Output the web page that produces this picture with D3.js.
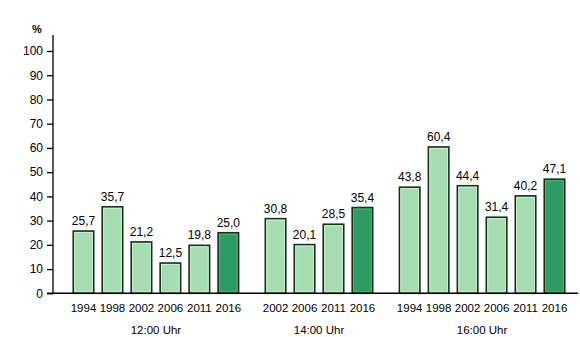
<!DOCTYPE html>
<html><head><meta charset="utf-8">
<script src="https://cdn.jsdelivr.net/npm/d3@7"></script>
<style>html,body{margin:0;padding:0;background:#fff;}svg{display:block;font-family:"Liberation Sans",Arial,sans-serif;}</style>
</head><body>
<script>
const groups = ["12:00 Uhr", "14:00 Uhr", "16:00 Uhr"];
const years12 = ["1994", "1998", "2002", "2006", "2011", "2016"];
const values12 = [25.7, 35.7, 21.2, 12.5, 19.8, 25.0];
const years14 = ["2002", "2006", "2011", "2016"];
const values14 = [30.8, 20.1, 28.5, 35.4];
const years16 = ["1994", "1998", "2002", "2006", "2011", "2016"];
const values16 = [43.8, 60.4, 44.4, 31.4, 40.2, 47.1];
const yTicks = [0, 10, 20, 30, 40, 50, 60, 70, 80, 90, 100];

const W = 580, H = 337;
const svg = d3.select("body").append("svg").attr("width", W).attr("height", H);

const groupYears = [years12, years14, years16];
const groupValues = [values12, values14, values16];
const gapSlots = 1.63;
const bars = [];
const groupCenters = [];
let idx = 0;
groupYears.forEach((ys, gi) => {
  const start = idx;
  ys.forEach((yr, i) => {
    bars.push({group: gi, year: yr, value: groupValues[gi][i], pos: idx, last: i === ys.length - 1});
    idx += 1;
  });
  groupCenters.push({name: groups[gi], pos: (start + idx - 1) / 2});
  idx += gapSlots - 1;
});
const maxPos = bars[bars.length - 1].pos;

const x = d3.scaleLinear().domain([0, maxPos]).range([83.5, 554.5]);
const y = d3.scaleLinear().domain([0, 100]).range([293.3, 51]);
const barW = 20.5;

// y axis
const axisX = 53;
const yAxis = svg.append("g").attr("transform", `translate(${axisX},0)`)
  .call(d3.axisLeft(y).tickValues(yTicks).tickSize(6).tickPadding(4).tickFormat(d3.format("d")));
yAxis.select(".domain").remove();
yAxis.selectAll(".tick line").attr("stroke", "#000").attr("stroke-width", 1.3);
yAxis.selectAll(".tick text").attr("font-size", 12).attr("fill", "#000").attr("font-family", "Liberation Sans, Arial, sans-serif");
svg.append("line").attr("x1", axisX).attr("x2", axisX).attr("y1", 35).attr("y2", y(0))
  .attr("stroke", "#000").attr("stroke-width", 1.3);
svg.append("text").attr("x", 37).attr("y", 33).attr("text-anchor", "middle")
  .attr("font-size", 11).attr("font-weight", "bold").text("%");

// bars
const bg = svg.append("g");
bg.selectAll("rect.bar").data(bars).join("rect")
  .attr("class", "bar")
  .attr("x", d => x(d.pos) - barW / 2)
  .attr("y", d => y(d.value))
  .attr("width", barW)
  .attr("height", d => y(0) - y(d.value))
  .attr("fill", d => d.last ? "#2e9c62" : "#a6dcb2")
  .attr("stroke", "#15301c").attr("stroke-width", 1.6);
bg.selectAll("rect.inner").data(bars).join("rect")
  .attr("class", "inner")
  .attr("x", d => x(d.pos) - barW / 2 + 1.5)
  .attr("y", d => y(d.value) + 1.5)
  .attr("width", barW - 3)
  .attr("height", d => Math.max(0, y(0) - y(d.value) - 3))
  .attr("fill", "none")
  .attr("stroke", d => d.last ? "#5fb585" : "#d6f0dc").attr("stroke-width", 0.8);

// value labels
const fmt = v => d3.format(".1f")(v).replace(".", ",");
svg.selectAll("text.val").data(bars).join("text")
  .attr("class", "val")
  .attr("x", d => x(d.pos))
  .attr("y", d => y(d.value) - 6)
  .attr("text-anchor", "middle").attr("font-size", 12).attr("fill", "#000")
  .text(d => fmt(d.value));

// baseline
svg.append("line").attr("x1", 47).attr("x2", 578).attr("y1", y(0)).attr("y2", y(0))
  .attr("stroke", "#000").attr("stroke-width", 1.4);

// year labels
svg.selectAll("text.year").data(bars).join("text")
  .attr("class", "year")
  .attr("x", d => x(d.pos))
  .attr("y", 311.5)
  .attr("text-anchor", "middle").attr("font-size", 11.5).attr("fill", "#000")
  .text(d => d.year);

// group labels
svg.selectAll("text.grp").data(groupCenters).join("text")
  .attr("class", "grp")
  .attr("x", d => x(d.pos))
  .attr("y", 334)
  .attr("text-anchor", "middle").attr("font-size", 11.5).attr("fill", "#000")
  .text(d => d.name);
</script>
</body></html>
